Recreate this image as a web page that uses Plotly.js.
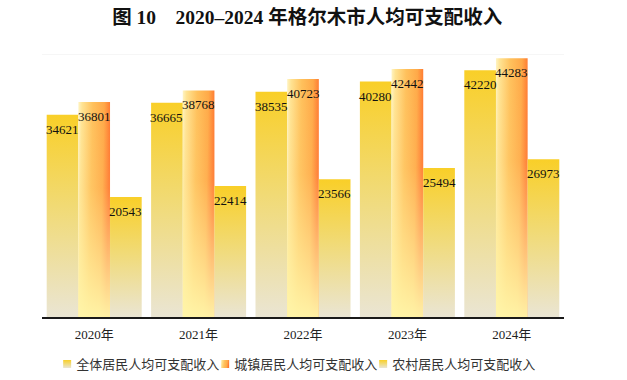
<!DOCTYPE html>
<html>
<head>
<meta charset="utf-8">
<script src="https://cdn.plot.ly/plotly-3.0.1.min.js"></script>
<style>
html,body{margin:0;padding:0;background:#fff;}
#chart{width:627px;height:380px;}
</style>
</head>
<body>
<div id="chart"></div>
<script>
const years = ["2020年","2021年","2022年","2023年","2024年"];
const seriesNames = ["全体居民人均可支配收入","城镇居民人均可支配收入","农村居民人均可支配收入"];
const overall = [34621, 36665, 38535, 40280, 42220];
const urban = [36801, 38768, 40723, 42442, 44283];
const rural = [20543, 22414, 23566, 25494, 26973];
const yMax = 45000;

const allSeries = [overall, urban, rural];
const baseColors = ["#F4D655", "#FFB24E", "#F4D655"];
const BARGAP = 0.09;
const numFont = "Liberation Serif, Times New Roman, Noto Sans CJK SC, serif";

const data = allSeries.map((vals, i) => ({
  type: "bar",
  name: seriesNames[i],
  x: years,
  y: vals,
  marker: {color: baseColors[i], line: {width: 0}},
  hoverinfo: "skip"
}));

const annotations = [];
allSeries.forEach((vals, i) => {
  const off = (i - 1) * (1 - BARGAP) / allSeries.length;
  vals.forEach((v, j) => {
    annotations.push({
      x: j + off, y: v, xref: "x", yref: "y",
      text: String(v), showarrow: false,
      yanchor: "top", xanchor: "center", yshift: -5,
      font: {family: numFont, size: 13, color: "#111"}
    });
  });
});

const layout = {
  width: 627, height: 380,
  margin: {l: 42, r: 63, t: 54, b: 62.5},
  paper_bgcolor: "#fff", plot_bgcolor: "#fff",
  title: {
    text: "<b>图 10\u30002020–2024 年格尔木市人均可支配收入</b>",
    font: {family: numFont, size: 19.5, color: "#111"},
    x: 0.49, xanchor: "center", xref: "container",
    y: 0.955, yanchor: "middle", yref: "container"
  },
  barmode: "group", bargap: BARGAP, bargroupgap: 0,
  xaxis: {
    type: "category",
    showline: true, linecolor: "#1a1a1a", linewidth: 1.5,
    showgrid: false, zeroline: false,
    ticks: "outside", ticklen: 5, tickcolor: "rgba(0,0,0,0)",
    tickfont: {family: numFont, size: 13, color: "#222"}
  },
  yaxis: {
    range: [0, yMax], showgrid: false, zeroline: false,
    showticklabels: false, showline: false
  },
  shapes: [{
    type: "line", xref: "paper", yref: "y", x0: 0, x1: 1, y0: yMax, y1: yMax,
    line: {color: "#eeeeee", width: 1}
  }],
  showlegend: true,
  legend: {
    orientation: "h",
    xref: "container", x: 0.45, xanchor: "center",
    yref: "container", y: 0.042, yanchor: "middle",
    font: {family: numFont, size: 13, color: "#333"},
    itemwidth: 30, traceorder: "normal", tracegroupgap: 0,
    entrywidth: 113, entrywidthmode: "pixels"
  },
  annotations: annotations
};

Plotly.newPlot("chart", data, layout, {staticPlot: true, displayModeBar: false}).then(gd => {
  const NS = "http://www.w3.org/2000/svg";
  const svg = gd.querySelector(".main-svg");
  let defs = svg.querySelector("defs");
  if (!defs) { defs = document.createElementNS(NS, "defs"); svg.insertBefore(defs, svg.firstChild); }
  function lin(id, x1, y1, x2, y2, stops) {
    const g = document.createElementNS(NS, "linearGradient");
    g.setAttribute("id", id);
    g.setAttribute("x1", x1); g.setAttribute("y1", y1);
    g.setAttribute("x2", x2); g.setAttribute("y2", y2);
    stops.forEach(s => {
      const st = document.createElementNS(NS, "stop");
      st.setAttribute("offset", s[0]);
      st.setAttribute("stop-color", s[1]);
      if (s[2] !== undefined) st.setAttribute("stop-opacity", s[2]);
      g.appendChild(st);
    });
    defs.appendChild(g);
  }
  lin("gAll", 0, 0, 0, 1, [[0, "#F9CF28"], [0.45, "#F1DA74"], [1, "#EAE5D3"]]);
  lin("gUrbH", 0, 0, 1, 0.15, [[0, "#FFF4C4"], [0.12, "#FFE393"], [0.45, "#FFC15C"], [0.8, "#FFA948"], [1, "#FF7830"]]);
  lin("gUrbV", 0, 0, 0, 1, [[0, "#FFF4A8", 0], [0.4, "#FFF4A8", 0.1], [1, "#FFF6AA", 0.95]]);
  const fills = ["url(#gAll)", "url(#gUrbH)", "url(#gAll)"];
  gd.querySelectorAll(".barlayer .trace").forEach((t, i) => {
    t.querySelectorAll("path").forEach(p => {
      p.style.fill = fills[i];
      if (i === 1) {
        const c = p.cloneNode(true);
        c.style.fill = "url(#gUrbV)";
        p.parentNode.appendChild(c);
      }
    });
  });
  gd.querySelectorAll(".legend .scrollbox, .legend [clip-path]").forEach(el => el.removeAttribute("clip-path"));
  gd.querySelectorAll(".legend .traces").forEach((t, i) => {
    t.querySelectorAll(".legendpoints path").forEach(p => {
      p.setAttribute("d", "M6,4H-2V-4H6Z");
      p.style.fill = fills[i];
    });
    const txt = t.querySelector("text.legendtext");
    if (txt) {
      const tx = parseFloat(txt.getAttribute("x") || "40");
      txt.setAttribute("x", tx - 9);
      txt.querySelectorAll("tspan[x]").forEach(ts => ts.setAttribute("x", parseFloat(ts.getAttribute("x")) - 9));
    }
  });
});
</script>
</body>
</html>
